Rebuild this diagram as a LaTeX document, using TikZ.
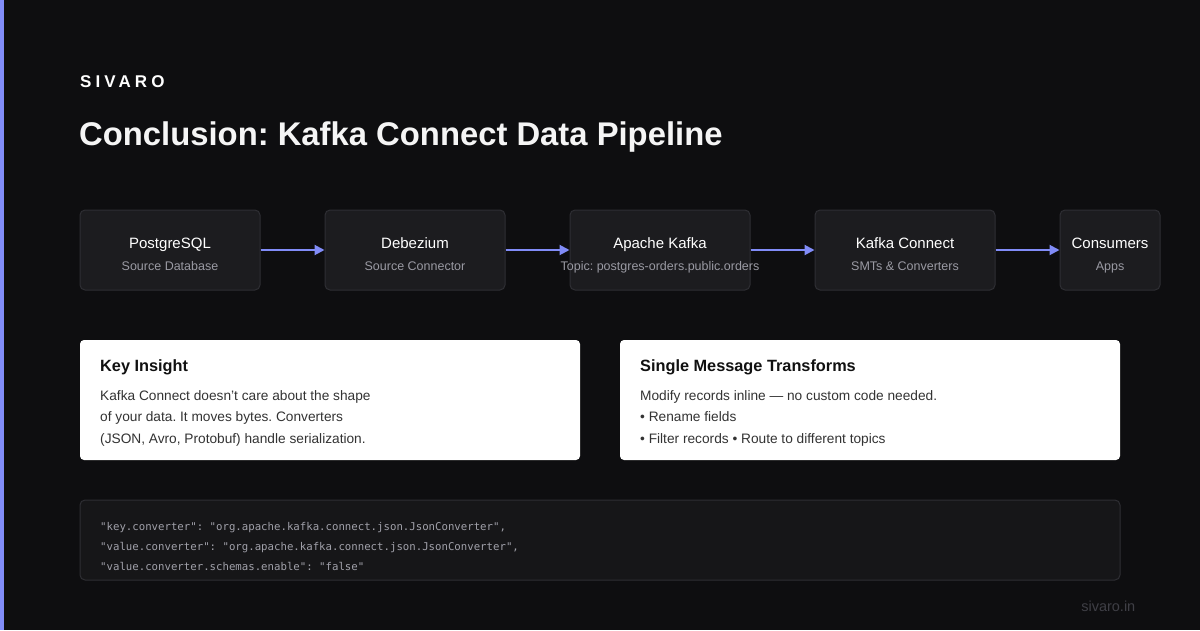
\documentclass[tikz,border=0pt]{standalone}
\usepackage{fontspec}
\setmainfont{Liberation Sans}
\setmonofont{DejaVu Sans Mono}
\newfontfamily\spacedfont[LetterSpace=24]{Liberation Sans}
\usetikzlibrary{arrows.meta}
\frenchspacing
\definecolor{bg}{HTML}{0E0E10}
\definecolor{accent}{HTML}{818CF8}
\definecolor{boxfill}{HTML}{1C1C1F}
\definecolor{boxline}{HTML}{2E2E33}
\definecolor{subgray}{HTML}{9A9AA3}
\definecolor{codefill}{HTML}{161618}
\definecolor{codetext}{HTML}{A1A1AA}
\definecolor{cardtitle}{HTML}{111111}
\definecolor{cardtext}{HTML}{333333}
\definecolor{footer}{HTML}{3F3F46}
\tikzset{
  pbox/.style={draw=boxline, line width=1pt, fill=boxfill, rounded corners=5pt, inner sep=0pt, minimum height=80pt},
  ptitle/.style={text=white, font=\fontsize{15}{18}\selectfont, inner sep=0pt, anchor=base},
  psub/.style={text=subgray, font=\fontsize{12.5}{15}\selectfont, inner sep=0pt, anchor=base},
  flow/.style={draw=accent, line width=2pt, -{Triangle[length=10pt,width=10pt]}},
  card/.style={fill=white, rounded corners=4pt, inner sep=0pt},
  ctitle/.style={text=cardtitle, font=\bfseries\fontsize{16.3}{20}\selectfont, anchor=base west, inner sep=0pt},
  ctext/.style={text=cardtext, font=\fontsize{13.7}{16}\selectfont, anchor=base west, inner sep=0pt},
  code/.style={text=codetext, font=\ttfamily\fontsize{10.7}{13}\selectfont, anchor=base west, inner sep=0pt},
}
\begin{document}
\begin{tikzpicture}[x=1pt,y=-1pt]
\useasboundingbox (0,0) rectangle (1200,630);
\fill[bg] (0,0) rectangle (1200,630);
\fill[accent] (0,0) rectangle (4,630);
\node[anchor=base west, inner sep=0pt, text=white, font=\spacedfont\bfseries\fontsize{17}{20}\selectfont] (brand) at (80,87.3) {SIVARO};
\node[anchor=base west, inner sep=0pt, text=white!96!black, font=\bfseries\fontsize{32.8}{38}\selectfont] (title) at (79,145.5) {Conclusion: Kafka Connect Data Pipeline};
% pipeline
\node[pbox, minimum width=180pt] (pg) at (170,250) {};
\node[pbox, minimum width=180pt] (dbz) at (415,250) {};
\node[pbox, minimum width=180pt] (kafka) at (660,250) {};
\node[pbox, minimum width=180pt] (kc) at (905,250) {};
\node[pbox, minimum width=100pt] (cons) at (1110,250) {};
\node[ptitle] (pgt) at (170,248.5) {PostgreSQL};
\node[psub] (pgs) at (170,270.5) {Source Database};
\node[ptitle] (dbzt) at (415,248.5) {Debezium};
\node[psub] (dbzs) at (415,270.5) {Source Connector};
\node[ptitle] (kafkat) at (660,248.5) {Apache Kafka};
\node[psub] (kafkas) at (660,270.5) {Topic: postgres-orders.public.orders};
\node[ptitle] (kct) at (905,248.5) {Kafka Connect};
\node[psub] (kcs) at (905,270.5) {SMTs \& Converters};
\node[ptitle] (const) at (1110,248.5) {Consumers};
\node[psub] (conss) at (1110,270.5) {Apps};
\draw[flow] (pg.east) -- (dbz.west);
\draw[flow] (dbz.east) -- (kafka.west);
\draw[flow] (kafka.east) -- (kc.west);
\draw[flow] (kc.east) -- (cons.west);
% cards
\node[card, minimum width=500pt, minimum height=120pt] (ins) at (330,400) {};
\node[ctitle] (inst) at (100,371) {Key Insight};
\node[ctext] (ins1) at (100,400) {Kafka Connect doesn't care about the shape};
\node[ctext] (ins2) at (100,421.8) {of your data. It moves bytes. Converters};
\node[ctext] (ins3) at (100,443.5) {(JSON, Avro, Protobuf) handle serialization.};
\node[card, minimum width=500pt, minimum height=120pt] (smt) at (870,400) {};
\node[ctitle] (smtt) at (640,371) {Single Message Transforms};
\node[ctext] (smt1) at (640,400) {Modify records inline — no custom code needed.};
\node[ctext] (smt2) at (640,421.8) {• Rename fields};
\node[ctext] (smt3) at (640,443.5) {• Filter records • Route to different topics};
% code
\node[draw=boxline, line width=1pt, fill=codefill, rounded corners=5pt, minimum width=1040pt, minimum height=80pt, inner sep=0pt] (codebox) at (600,540) {};
\node[code] (c1) at (100,530) {"key.converter": "org.apache.kafka.connect.json.JsonConverter",};
\node[code] (c2) at (100,550) {"value.converter": "org.apache.kafka.connect.json.JsonConverter",};
\node[code] (c3) at (100,570) {"value.converter.schemas.enable": "false"};
\node[anchor=base east, inner sep=0pt, text=footer, font=\fontsize{14.5}{17}\selectfont] (foot) at (1135.5,611) {sivaro.in};
\end{tikzpicture}
\end{document}
